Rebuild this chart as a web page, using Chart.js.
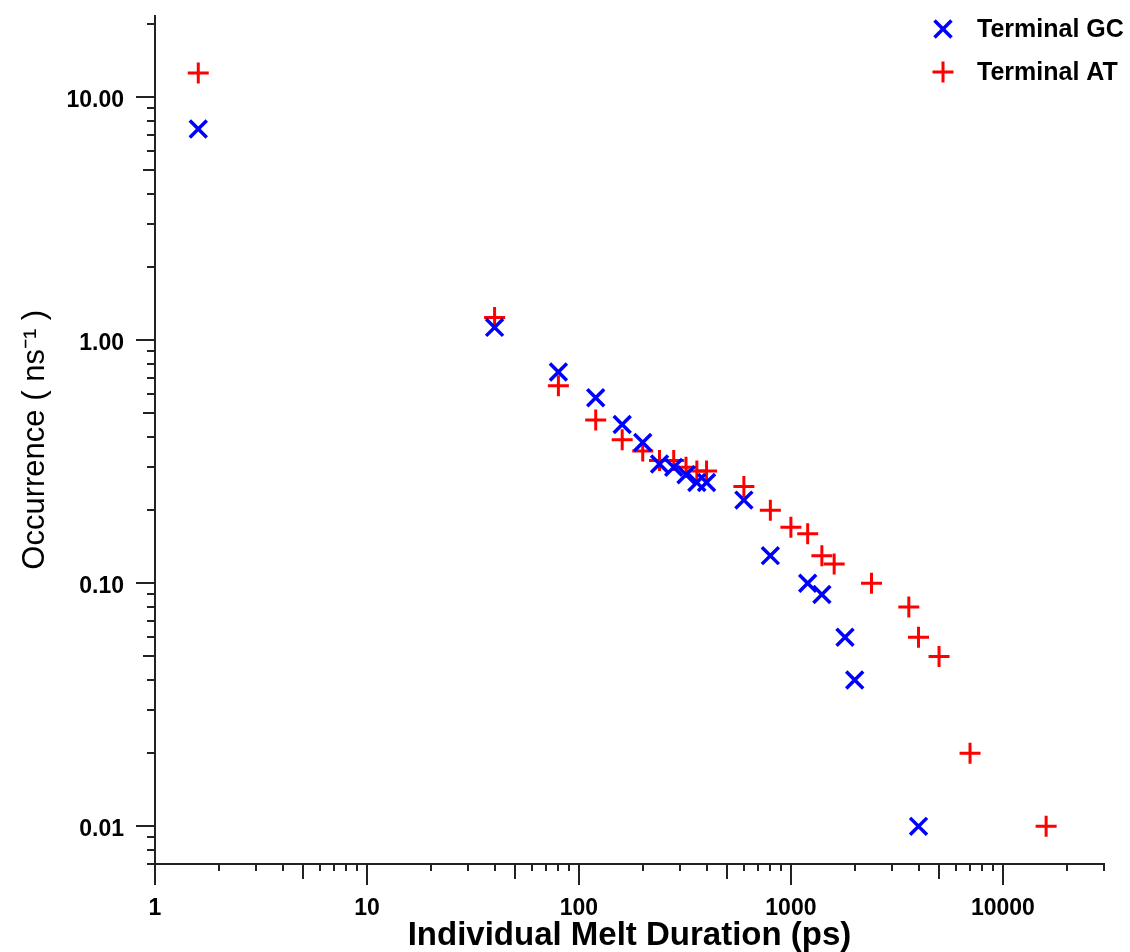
<!DOCTYPE html>
<html>
<head>
<meta charset="utf-8">
<script src="https://cdn.jsdelivr.net/npm/chart.js@4.4.0/dist/chart.umd.min.js"></script>
<style>
  html, body { margin: 0; padding: 0; background: #fff; }
  #wrap { width: 1130px; height: 952px; }
</style>
</head>
<body>
<div id="wrap"><canvas id="meltChart"></canvas></div>
<script>
// ================= DATA =================
const gcDuration   = [1.6, 40, 80, 120, 160, 200, 240, 280, 320, 360, 400, 600, 800, 1200, 1400, 1800, 2000, 4000];
const gcOccurrence = [7.4, 1.13, 0.74, 0.58, 0.45, 0.38, 0.31, 0.30, 0.28, 0.26, 0.26, 0.22, 0.13, 0.10, 0.09, 0.06, 0.04, 0.01];
const atDuration   = [1.6, 40, 80, 120, 160, 200, 240, 280, 320, 360, 400, 600, 800, 1000, 1200, 1400, 1600, 2400, 3600, 4000, 5000, 7000, 16000];
const atOccurrence = [12.6, 1.24, 0.65, 0.47, 0.39, 0.35, 0.32, 0.32, 0.30, 0.29, 0.29, 0.25, 0.20, 0.17, 0.16, 0.13, 0.12, 0.10, 0.08, 0.06, 0.05, 0.02, 0.01];
const xTickLabels = [1, 10, 100, 1000, 10000];
const yTickLabels = [0.01, 0.1, 1, 10];

const toPoints = (xs, ys) => xs.map((x, i) => ({ x, y: ys[i] }));
const isLabel = (list, v) => list.some(t => Math.abs(t - v) < t * 1e-6);

// length of the tick mark by mantissa: [minor, five, decade]
function tickLength(v, lens) {
  const e = Math.floor(Math.log10(v) + 1e-9);
  const m = v / Math.pow(10, e);
  if (Math.abs(m - Math.round(m)) > 1e-6) return 0;
  const r = Math.round(m);
  return r === 1 ? lens[2] : r === 5 ? lens[1] : lens[0];
}

// fixed axis box, no extra room for edge labels
function fixBox(s, size) {
  if (s.isHorizontal()) s.height = size; else s.width = size;
  s.paddingTop = 0; s.paddingBottom = 0; s.paddingLeft = 0; s.paddingRight = 0;
}

// ================= PLUGINS =================
const tickMarks = {
  id: "tickMarks",
  afterDraw(chart) {
    const ctx = chart.ctx;
    const xs = chart.scales.x, ys = chart.scales.y;
    ctx.save();
    ctx.strokeStyle = "#222";
    ctx.lineWidth = 2;
    xs.ticks.forEach(t => {
      const len = tickLength(t.value, [7, 15, 21]);
      if (!len) return;
      const px = Math.round(xs.getPixelForValue(t.value));
      ctx.beginPath();
      ctx.moveTo(px, xs.top);
      ctx.lineTo(px, xs.top + len);
      ctx.stroke();
    });
    ys.ticks.forEach(t => {
      const len = tickLength(t.value, [8, 12, 19]);
      if (!len) return;
      const py = Math.round(ys.getPixelForValue(t.value));
      ctx.beginPath();
      ctx.moveTo(ys.right, py);
      ctx.lineTo(ys.right - len, py);
      ctx.stroke();
    });
    ctx.restore();
  }
};

const cornerLegend = {
  id: "cornerLegend",
  afterDraw(chart) {
    const ctx = chart.ctx;
    ctx.save();
    ctx.font = 'bold 25px "Liberation Sans", Arial, sans-serif';
    ctx.textBaseline = "middle";
    chart.data.datasets.forEach((ds, i) => {
      const y = 29 + i * 43;
      ctx.strokeStyle = ds.borderColor;
      ctx.fillStyle = ds.borderColor;
      ctx.lineWidth = ds.pointBorderWidth;
      Chart.helpers.drawPoint(ctx, {
        pointStyle: ds.pointStyle, radius: ds.pointRadius, rotation: 0, borderWidth: ds.pointBorderWidth
      }, 943, y);
      ctx.fillStyle = "#000";
      ctx.fillText(ds.label, 977, y + 1);
    });
    ctx.restore();
  }
};

// ================= CHART =================
const tickFont = { family: '"Liberation Sans", Arial, sans-serif', size: 23, weight: "bold" };

new Chart(document.getElementById("meltChart"), {
  type: "scatter",
  data: {
    datasets: [
      {
        label: "Terminal GC",
        data: toPoints(gcDuration, gcOccurrence),
        pointStyle: "crossRot",
        pointRadius: 12,
        pointHoverRadius: 12,
        pointBorderWidth: 3.5,
        borderColor: "#0000ff",
        backgroundColor: "#0000ff"
      },
      {
        label: "Terminal AT",
        data: toPoints(atDuration, atOccurrence),
        pointStyle: "cross",
        pointRadius: 10.5,
        pointHoverRadius: 10.5,
        pointBorderWidth: 3,
        borderColor: "#ff0000",
        backgroundColor: "#ff0000"
      }
    ]
  },
  options: {
    responsive: true,
    maintainAspectRatio: false,
    animation: false,
    layout: { padding: { top: 15, right: 26, left: 0, bottom: 0 } },
    plugins: {
      legend: { display: false },
      tooltip: { enabled: false }
    },
    scales: {
      x: {
        type: "logarithmic",
        min: 1,
        max: 30000,
        afterFit: s => fixBox(s, 88),
        border: { display: true, color: "#222", width: 2 },
        grid: { display: true, drawOnChartArea: false, drawTicks: true, tickLength: 21, tickColor: "rgba(0,0,0,0)" },
        ticks: {
          autoSkip: false,
          maxRotation: 0,
          padding: 10,
          color: "#000",
          font: tickFont,
          callback: v => isLabel(xTickLabels, v) ? String(Math.round(v)) : ""
        },
        title: {
          display: true,
          text: "Individual Melt Duration (ps)",
          color: "#000",
          font: { family: '"Liberation Sans", Arial, sans-serif', size: 33, weight: "bold", lineHeight: 0.95 },
          padding: { top: 0, bottom: 0 }
        }
      },
      y: {
        type: "logarithmic",
        min: 0.007,
        max: 21.7,
        afterFit: s => fixBox(s, 155),
        border: { display: true, color: "#222", width: 2 },
        grid: { display: true, drawOnChartArea: false, drawTicks: true, tickLength: 19, tickColor: "rgba(0,0,0,0)" },
        ticks: {
          autoSkip: false,
          padding: 12,
          labelOffset: 3,
          color: "#000",
          font: tickFont,
          callback: v => isLabel(yTickLabels, v) ? v.toFixed(2) : ""
        },
        title: {
          display: true,
          text: "Occurrence ( ns⁻¹ )",
          color: "#000",
          font: { family: '"Liberation Sans", Arial, sans-serif', size: 31, weight: "normal", lineHeight: 1.2 },
          padding: { top: 17, bottom: 0 }
        }
      }
    }
  },
  plugins: [tickMarks, cornerLegend]
});
</script>
</body>
</html>
